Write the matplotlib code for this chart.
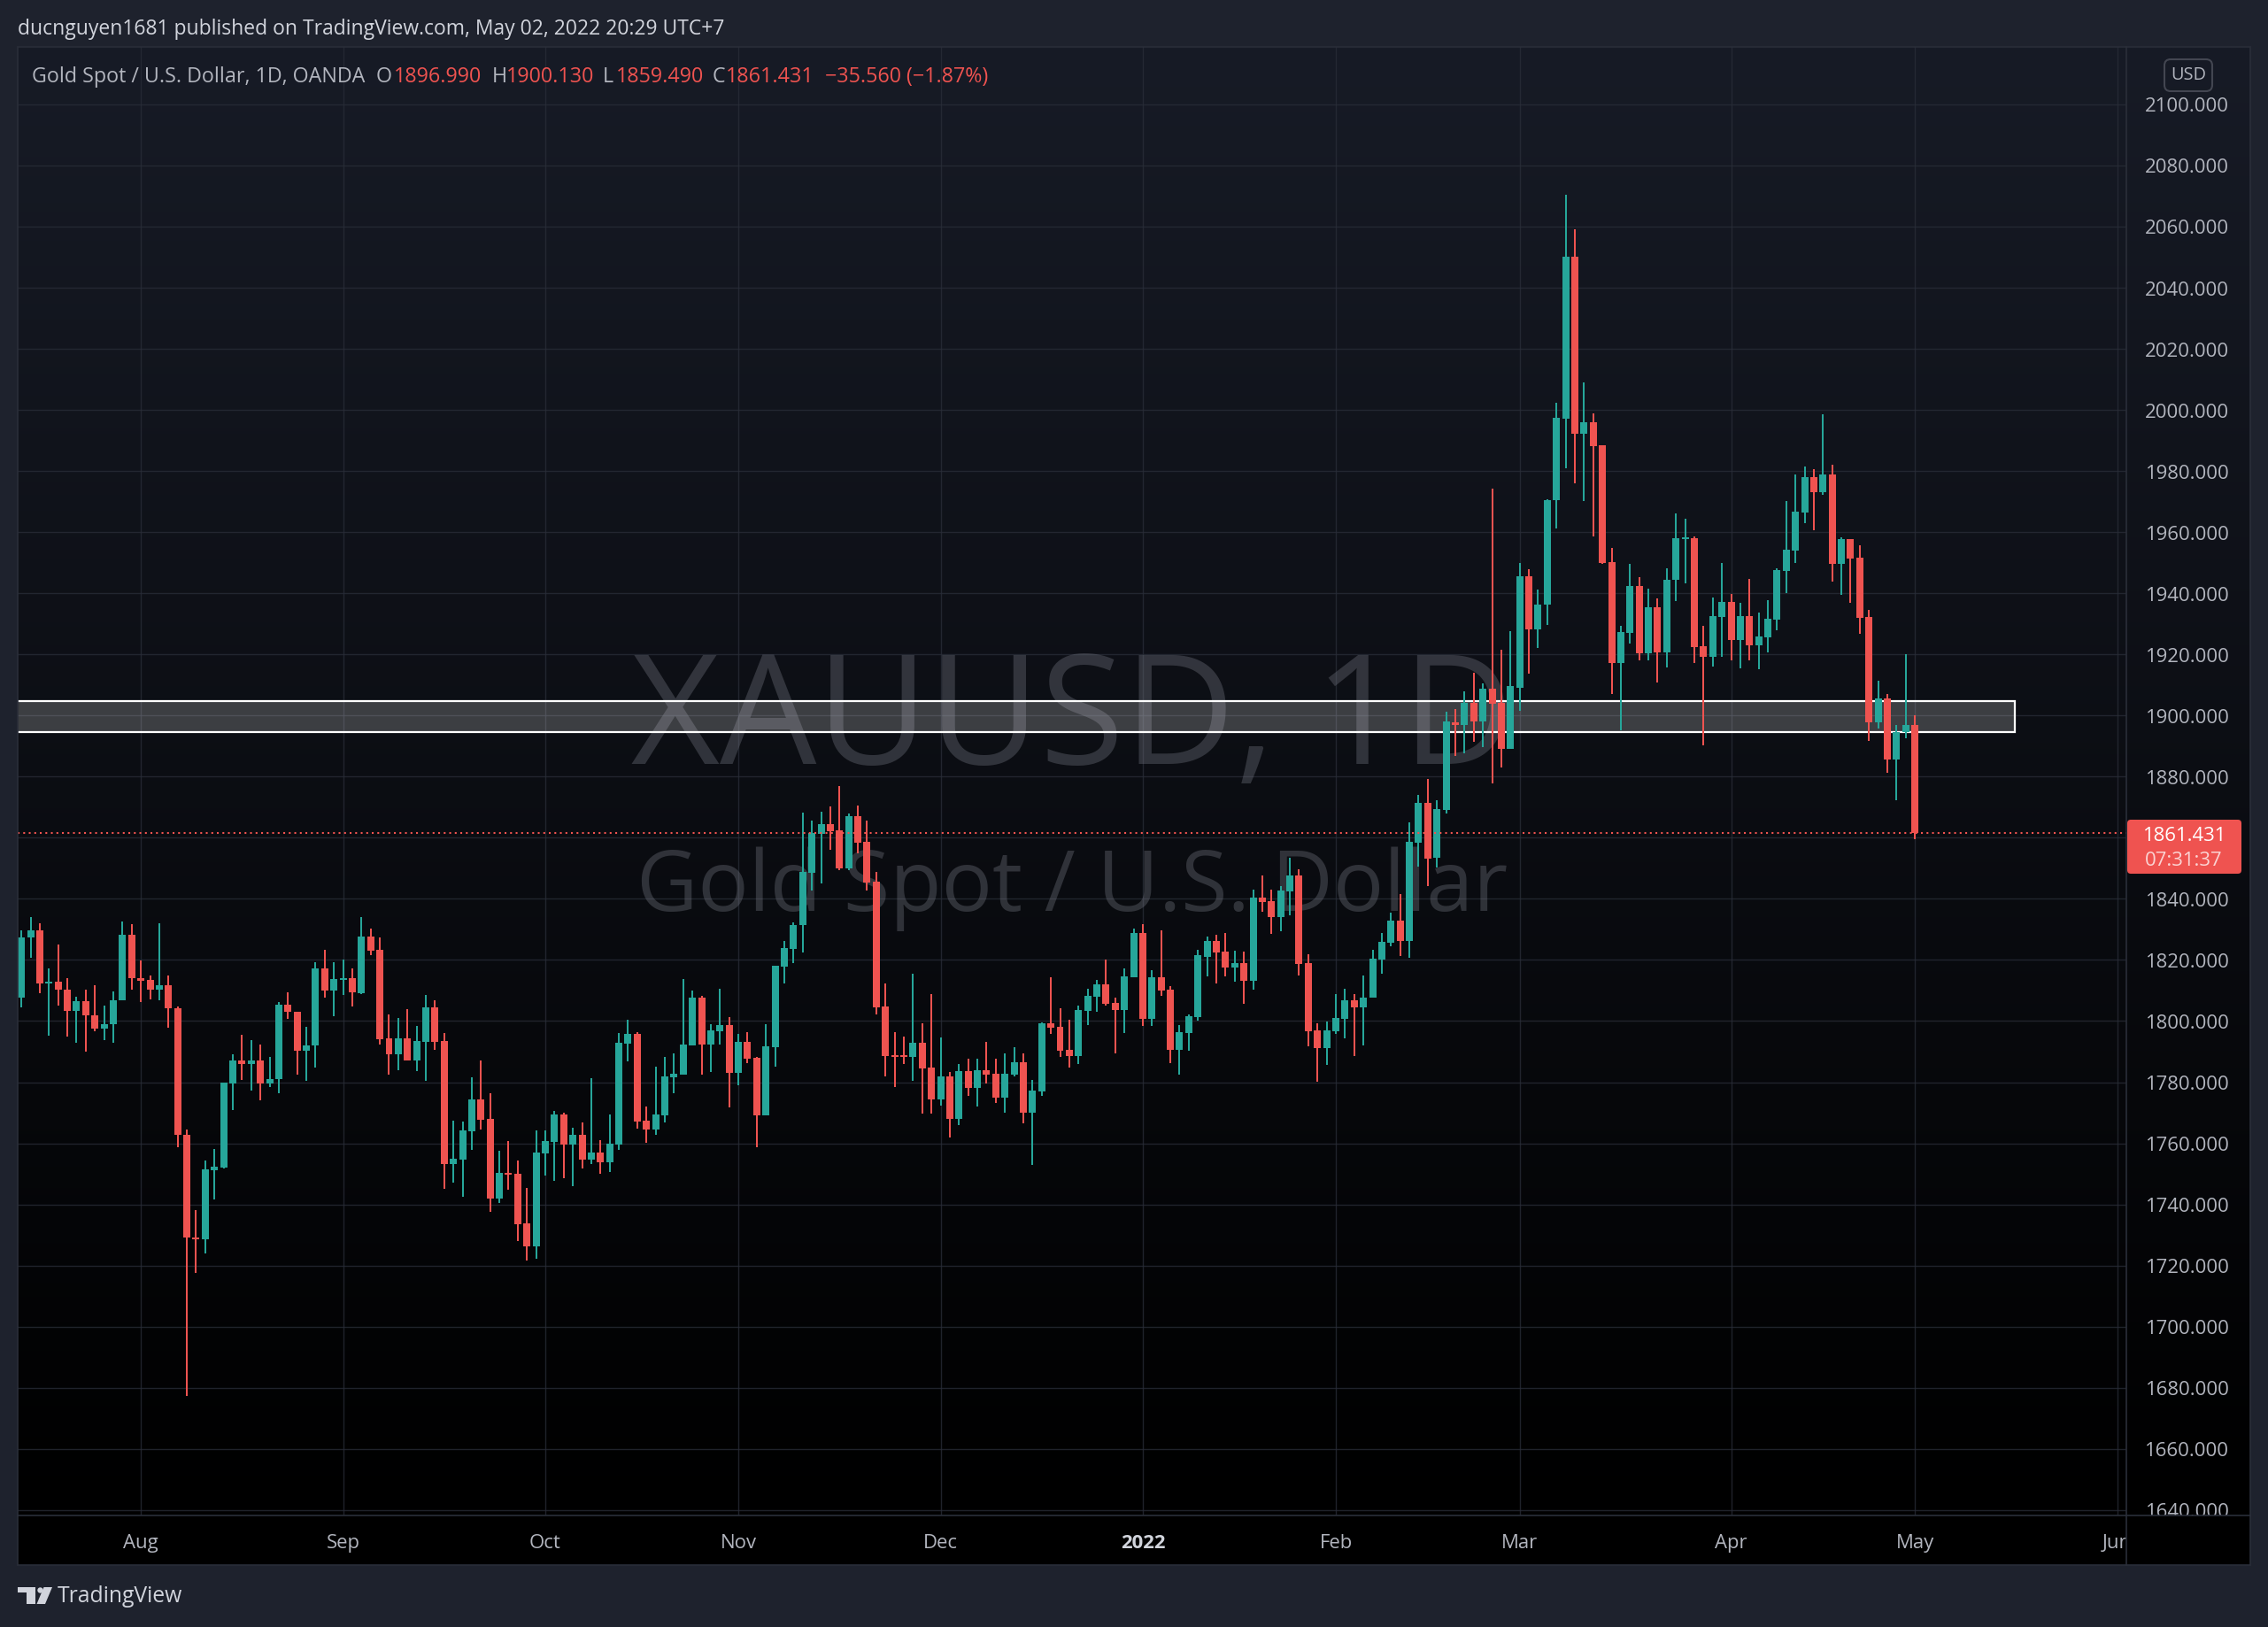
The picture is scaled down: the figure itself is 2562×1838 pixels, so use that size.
import numpy as np
import matplotlib
matplotlib.use('Agg')
import matplotlib.pyplot as plt
import matplotlib.colors as mcolors
from matplotlib.patches import Rectangle, FancyBboxPatch, Polygon, Circle
from matplotlib.lines import Line2D
from matplotlib.transforms import IdentityTransform, offset_copy

plt.rcParams['font.family'] = ['Open Sans', 'DejaVu Sans']

# ---------------- data (XAUUSD daily, OANDA) ----------------
opens = [
    1807.6, 1827.3, 1829.6, 1812.2, 1812.9, 1810.2, 1803.2, 1806.4, 1801.8, 1797.4,
    1798.9, 1806.7, 1828.1, 1814.1, 1813.6, 1810.2, 1811.8, 1804.2, 1762.9, 1729.3,
    1728.6, 1751.2, 1752.1, 1779.7, 1787.1, 1785.8, 1787.1, 1779.7, 1780.9, 1805.4,
    1803.1, 1790.4, 1791.9, 1817.3, 1810.1, 1813.6, 1814.1, 1809.1, 1827.7, 1823.4,
    1794.4, 1789.0, 1794.4, 1787.1, 1793.2, 1804.5, 1793.5, 1753.2, 1754.7, 1764.0,
    1774.4, 1768.0, 1741.9, 1750.3, 1750.0, 1733.8, 1726.3, 1756.7, 1760.5, 1769.5,
    1759.6, 1762.8, 1754.7, 1757.0, 1753.8, 1759.6, 1792.7, 1795.8, 1767.4, 1764.5,
    1769.2, 1781.6, 1782.5, 1792.1, 1807.7, 1792.4, 1796.7, 1798.7, 1783.0, 1793.1,
    1787.9, 1769.1, 1791.4, 1817.7, 1823.7, 1831.3, 1848.6, 1861.3, 1864.5, 1862.5,
    1850.0, 1867.1, 1858.7, 1845.7, 1804.7, 1788.8, 1788.8, 1788.2, 1792.8, 1784.7,
    1774.3, 1781.8, 1768.0, 1783.7, 1778.2, 1784.0, 1782.8, 1775.0, 1782.5, 1786.6,
    1770.0, 1777.0, 1799.3, 1798.2, 1790.6, 1788.6, 1803.4, 1808.0, 1812.1, 1806.0,
    1803.7, 1814.4, 1828.9, 1800.8, 1814.4, 1810.3, 1790.6, 1796.1, 1801.4, 1821.1,
    1826.1, 1822.6, 1817.4, 1819.1, 1813.3, 1840.5, 1839.3, 1834.1, 1842.5, 1847.7,
    1819.1, 1796.9, 1791.1, 1796.6, 1800.6, 1806.7, 1804.4, 1807.6, 1820.0, 1825.5,
    1833.0, 1826.3, 1858.4, 1871.4, 1853.5, 1869.0, 1897.8, 1896.9, 1904.0, 1898.0,
    1908.9, 1904.0, 1889.0, 1909.2, 1945.7, 1928.1, 1936.2, 1970.5, 1997.2, 2050.0,
    1992.1, 1996.0, 1988.5, 1950.3, 1917.3, 1927.1, 1942.3, 1920.4, 1935.5, 1920.7,
    1944.3, 1957.7, 1958.0, 1922.6, 1919.1, 1932.2, 1937.1, 1924.6, 1932.5, 1922.9,
    1925.5, 1931.3, 1947.2, 1953.9, 1966.4, 1978.0, 1973.0, 1978.8, 1949.6, 1957.7,
    1951.6, 1932.2, 1897.7, 1905.5, 1885.5, 1894.5, 1896.99]

highs = [
    1829.8, 1834.1, 1832.1, 1817.3, 1825.1, 1813.9, 1808.0, 1810.3, 1811.6, 1805.1,
    1809.8, 1832.7, 1831.6, 1819.7, 1815.0, 1831.9, 1815.0, 1804.8, 1764.4, 1738.0,
    1754.3, 1758.1, 1780.0, 1789.1, 1795.6, 1793.8, 1792.4, 1788.3, 1806.3, 1809.5,
    1803.1, 1798.2, 1819.3, 1823.4, 1819.3, 1820.2, 1817.3, 1834.1, 1830.3, 1827.4,
    1802.2, 1801.1, 1804.0, 1798.5, 1808.6, 1806.9, 1796.1, 1767.4, 1767.1, 1781.6,
    1787.1, 1776.4, 1757.6, 1760.8, 1754.4, 1745.4, 1764.3, 1764.3, 1770.6, 1770.0,
    1765.1, 1766.9, 1781.4, 1761.1, 1769.5, 1796.1, 1800.5, 1796.4, 1772.1, 1785.1,
    1788.3, 1789.5, 1813.8, 1810.0, 1808.3, 1799.0, 1810.5, 1801.2, 1795.7, 1796.3,
    1788.2, 1798.9, 1818.2, 1826.3, 1832.4, 1868.2, 1865.6, 1868.5, 1870.3, 1876.9,
    1868.0, 1870.6, 1865.6, 1848.9, 1812.2, 1796.3, 1794.8, 1815.4, 1799.2, 1808.7,
    1794.5, 1783.3, 1785.9, 1787.7, 1787.7, 1793.2, 1787.7, 1789.5, 1791.5, 1789.5,
    1780.8, 1799.6, 1814.4, 1804.3, 1800.5, 1805.1, 1810.6, 1813.5, 1820.2, 1807.7,
    1817.3, 1830.3, 1831.8, 1816.7, 1829.8, 1811.5, 1798.7, 1802.2, 1823.4, 1827.8,
    1828.1, 1828.9, 1822.9, 1822.6, 1843.1, 1847.7, 1843.1, 1844.3, 1853.5, 1849.7,
    1822.0, 1799.2, 1799.8, 1808.7, 1810.7, 1808.7, 1814.8, 1823.4, 1828.7, 1835.6,
    1841.7, 1865.1, 1874.0, 1879.2, 1872.4, 1901.1, 1902.2, 1908.0, 1914.1, 1910.4,
    1974.3, 1921.6, 1927.5, 1950.0, 1948.0, 1941.1, 1970.9, 2002.4, 2070.5, 2059.1,
    2009.0, 1999.0, 1988.5, 1954.7, 1929.3, 1949.7, 1945.4, 1941.4, 1938.4, 1948.3,
    1966.1, 1964.3, 1958.6, 1929.3, 1938.6, 1949.9, 1939.7, 1936.8, 1944.6, 1933.6,
    1937.7, 1948.1, 1970.1, 1978.8, 1981.4, 1980.6, 1998.6, 1982.0, 1958.3, 1957.7,
    1955.7, 1934.5, 1911.3, 1907.0, 1896.8, 1920.0, 1900.13]

lows = [
    1804.6, 1820.6, 1809.0, 1795.1, 1805.2, 1794.8, 1792.8, 1789.9, 1796.6, 1793.7,
    1792.8, 1806.7, 1810.3, 1806.1, 1807.1, 1806.7, 1797.9, 1758.8, 1677.4, 1717.6,
    1723.9, 1741.7, 1751.7, 1771.0, 1780.6, 1777.3, 1774.2, 1778.5, 1776.5, 1800.8,
    1782.5, 1780.3, 1784.8, 1807.7, 1801.7, 1808.6, 1804.9, 1808.9, 1821.6, 1792.4,
    1782.5, 1784.0, 1787.1, 1783.7, 1780.5, 1790.6, 1745.1, 1747.1, 1742.4, 1757.9,
    1764.5, 1737.6, 1740.5, 1744.8, 1728.0, 1721.6, 1722.2, 1749.5, 1747.7, 1748.6,
    1746.0, 1751.8, 1753.2, 1750.0, 1750.6, 1757.9, 1786.9, 1764.8, 1760.2, 1762.8,
    1766.9, 1776.4, 1782.5, 1792.1, 1782.5, 1783.4, 1792.4, 1771.7, 1778.9, 1786.2,
    1758.7, 1769.1, 1785.0, 1812.2, 1819.1, 1822.3, 1842.8, 1845.1, 1856.1, 1849.5,
    1849.5, 1855.0, 1842.8, 1802.1, 1781.8, 1778.4, 1785.9, 1780.4, 1769.7, 1769.7,
    1772.3, 1761.9, 1765.9, 1775.6, 1772.1, 1779.6, 1773.2, 1770.0, 1781.9, 1766.6,
    1752.9, 1775.6, 1795.8, 1788.3, 1784.8, 1786.0, 1798.7, 1803.1, 1805.1, 1789.5,
    1796.1, 1814.4, 1798.5, 1798.5, 1808.3, 1786.3, 1782.5, 1790.3, 1800.2, 1814.5,
    1812.2, 1814.5, 1813.0, 1805.5, 1810.2, 1835.9, 1828.4, 1829.5, 1834.7, 1814.8,
    1791.7, 1780.1, 1785.6, 1795.7, 1794.3, 1788.5, 1792.0, 1807.6, 1815.4, 1824.6,
    1821.4, 1820.8, 1850.6, 1844.3, 1850.3, 1868.0, 1886.7, 1887.6, 1891.5, 1889.7,
    1877.9, 1883.0, 1889.0, 1901.5, 1913.6, 1922.0, 1929.6, 1961.2, 1981.0, 1976.1,
    1970.3, 1958.5, 1949.7, 1907.0, 1895.2, 1923.5, 1918.0, 1918.0, 1910.8, 1915.7,
    1937.4, 1943.2, 1917.1, 1890.1, 1915.9, 1919.1, 1918.0, 1915.4, 1918.0, 1915.1,
    1920.6, 1927.8, 1940.0, 1949.9, 1962.9, 1960.6, 1972.2, 1943.8, 1939.4, 1936.8,
    1926.7, 1891.6, 1895.7, 1881.2, 1872.2, 1892.5, 1859.49]

closes = [
    1827.4, 1829.6, 1812.2, 1812.9, 1810.2, 1803.2, 1806.4, 1801.8, 1797.4, 1799.0,
    1806.8, 1828.1, 1814.0, 1813.3, 1810.2, 1811.8, 1804.1, 1762.9, 1729.1, 1728.7,
    1751.4, 1752.2, 1779.9, 1787.1, 1785.8, 1787.1, 1779.6, 1781.1, 1805.4, 1802.9,
    1790.4, 1792.0, 1817.3, 1810.1, 1813.8, 1814.1, 1809.3, 1827.7, 1823.1, 1794.1,
    1789.0, 1794.4, 1787.1, 1793.5, 1804.5, 1793.2, 1753.2, 1755.0, 1764.3, 1774.4,
    1767.7, 1741.9, 1750.3, 1749.8, 1733.5, 1726.3, 1757.0, 1760.8, 1769.5, 1759.6,
    1762.8, 1754.7, 1757.0, 1753.8, 1759.9, 1792.9, 1795.8, 1767.1, 1764.5, 1769.5,
    1781.9, 1782.8, 1792.4, 1807.7, 1792.4, 1797.0, 1798.7, 1783.0, 1793.1, 1787.6,
    1769.1, 1791.7, 1818.0, 1824.0, 1831.5, 1848.9, 1861.6, 1864.5, 1862.2, 1850.0,
    1867.1, 1858.4, 1845.4, 1804.4, 1788.5, 1788.2, 1788.2, 1792.8, 1784.4, 1774.3,
    1781.8, 1768.0, 1783.6, 1778.2, 1784.0, 1782.5, 1775.0, 1782.8, 1786.6, 1770.0,
    1777.3, 1799.3, 1797.9, 1790.3, 1788.6, 1803.7, 1808.3, 1812.1, 1805.7, 1803.7,
    1814.7, 1828.9, 1800.8, 1814.4, 1810.0, 1790.6, 1796.4, 1801.6, 1821.6, 1826.1,
    1822.3, 1817.4, 1819.1, 1813.3, 1840.5, 1839.1, 1834.1, 1842.8, 1847.7, 1818.8,
    1796.6, 1791.1, 1796.9, 1800.9, 1806.7, 1804.4, 1807.8, 1820.3, 1825.8, 1833.0,
    1826.3, 1858.7, 1871.4, 1853.2, 1869.3, 1898.0, 1896.9, 1904.0, 1898.0, 1908.9,
    1903.9, 1889.0, 1909.5, 1945.7, 1928.1, 1936.2, 1970.6, 1997.5, 2050.0, 1992.1,
    1996.0, 1988.2, 1950.0, 1917.3, 1927.2, 1942.3, 1920.4, 1935.5, 1920.7, 1944.5,
    1958.0, 1958.2, 1922.3, 1919.1, 1932.5, 1937.1, 1924.6, 1932.5, 1922.9, 1925.8,
    1931.6, 1947.5, 1954.2, 1966.7, 1978.0, 1973.0, 1978.8, 1949.6, 1957.7, 1951.3,
    1931.9, 1897.7, 1905.5, 1885.5, 1894.5, 1896.991, 1861.431]

month_labels = ['Aug', 'Sep', 'Oct', 'Nov', 'Dec', '2022', 'Feb', 'Mar', 'Apr', 'May', 'Jun']
month_bars = [13, 35, 57, 78, 100, 122, 143, 163, 186, 206, 228]
price_ticks = list(range(1640, 2101, 20))

zone_low, zone_high = 1894.6, 1904.7
zone_end_bar = 216.9

symbol_title = 'Gold Spot / U.S. Dollar, 1D, OANDA'
watermark_1 = 'XAUUSD, 1D'
watermark_2 = 'Gold Spot / U.S. Dollar'
header = 'ducnguyen1681 published on TradingView.com, May 02, 2022 20:29 UTC+7'
countdown = '07:31:37'

# ---------------- styling ----------------
UP = '#26a69a'
DN = '#ef5350'
TXT = '#b2b5be'
FRAME = '#1e222d'
GRID = '#2a2e39'

W, H = 2562, 1838
PL, PR, PT, PB = 20, 2402, 53, 1712
AR, TB = 2542, 1768
XLIM = (-0.4, 229.0)
YLIM = (1638.2, 2118.8)

fig = plt.figure(figsize=(W / 100, H / 100), dpi=100)
fig.patch.set_facecolor(FRAME)
renderer = fig.canvas.get_renderer()
ID = IdentityTransform()


def fit(t, target_w):
    bb = t.get_window_extent(renderer)
    t.set_fontsize(t.get_fontsize() * target_w / bb.width)
    return t.get_fontsize()


def fxy(x, y):
    return x / W, 1 - y / H


def gradient_img(axx):
    top = np.array(mcolors.to_rgb('#171b26'))
    bot = np.array([0.0, 0.0, 0.0])
    t = np.linspace(0, 1, 512)[:, None]
    g = top * (1 - t) + bot * t
    xl, yl = axx.get_xlim(), axx.get_ylim()
    axx.imshow(g[:, None, :], extent=[xl[0], xl[1], yl[0], yl[1]], aspect='auto',
               origin='upper', zorder=0, interpolation='bilinear')
    axx.set_xlim(xl)
    axx.set_ylim(yl)


# main plot area
ax = fig.add_axes([PL / W, 1 - PB / H, (PR - PL) / W, (PB - PT) / H])
ax.set_xlim(XLIM)
ax.set_ylim(YLIM)
ax.axis('off')
gradient_img(ax)

for p in price_ticks:
    ax.axhline(p, color=GRID, lw=1.0, alpha=0.75, zorder=1)
for b in month_bars:
    ax.axvline(b, color=GRID, lw=1.0, alpha=0.75, zorder=1)

# watermark
wm1 = ax.text(0.5, 0.5118, watermark_1, transform=ax.transAxes, ha='center', va='baseline',
              color='#787b86', alpha=0.35, fontsize=100, zorder=1.5)
fit(wm1, 997)
wm2 = ax.text(0.5, 0.4117, watermark_2, transform=ax.transAxes, ha='center', va='baseline',
              color='#787b86', alpha=0.35, fontsize=60, zorder=1.5)
fit(wm2, 984)

# support/resistance zone
ax.add_patch(Rectangle((XLIM[0] - 5, zone_low), zone_end_bar - XLIM[0] + 5, zone_high - zone_low,
                       facecolor=(1, 1, 1, 0.2), edgecolor='white', lw=1.6, zorder=2))

# candles
o = np.array(opens); h = np.array(highs); l = np.array(lows); c = np.array(closes)
idx = np.arange(len(o))
cols = np.where(c >= o, UP, DN)
ax.vlines(idx, l, h, colors=cols, lw=1.45, zorder=3)
ax.bar(idx, np.maximum(np.abs(c - o), 0.3), width=0.77, bottom=np.minimum(o, c),
       color=cols, linewidth=0, zorder=4)

# last price line
ax.axhline(c[-1], color=DN, lw=1.5, ls=(0, (1, 2)), zorder=5)

# price axis
pax = fig.add_axes([PR / W, 1 - PB / H, (AR - PR) / W, (PB - PT) / H])
pax.set_xlim(0, 1)
pax.set_ylim(YLIM)
pax.axis('off')
gradient_img(pax)
ptr = offset_copy(pax.transData, fig=fig, x=0, y=-3, units='dots')

# the last-price badge covers the axis labels that fall under it (as in TradingView)
px_per_usd = (PB - PT) / (YLIM[1] - YLIM[0])
badge_top = c[-1] + 16 / px_per_usd
badge_bot = c[-1] - 46 / px_per_usd
visible_ticks = [p for p in price_ticks if not (badge_bot - 5 < p < badge_top + 5)]

tk = pax.text(0.486, visible_ticks[-1], f'{visible_ticks[-1]:.3f}', ha='center', va='center',
              color=TXT, fontsize=16, clip_on=True, zorder=3, transform=ptr)
axfs = fit(tk, 95)
for p in visible_ticks[:-1]:
    pax.text(0.486, p, f'{p:.3f}', ha='center', va='center', color=TXT, fontsize=axfs,
             clip_on=True, zorder=3, transform=ptr)

# time axis strip
fig.add_artist(Rectangle((PL, H - TB), AR - PL, TB - PB, transform=ID, facecolor='black',
                         edgecolor='none', zorder=-1))
tax = fig.add_axes([PL / W, 1 - TB / H, (PR - PL) / W, (TB - PB) / H])
tax.set_xlim(XLIM)
tax.set_ylim(0, 1)
tax.axis('off')
for b, lab in zip(month_bars, month_labels):
    bold = lab.isdigit()
    tax.text(b, 0.44, lab, ha='center', va='center', color='#d1d4dc' if bold else TXT,
             fontsize=axfs, fontweight='bold' if bold else 'normal', clip_on=True)

# panel borders
fig.add_artist(Rectangle((PL, H - TB), AR - PL, TB - PT, transform=ID, facecolor='none',
                         edgecolor=GRID, lw=1.2, zorder=10))
fig.add_artist(Line2D([PR, PR], [H - TB, H - PT], transform=ID, color=GRID, lw=1.2, zorder=10))
fig.add_artist(Line2D([PL, AR], [H - PB, H - PB], transform=ID, color=GRID, lw=1.2, zorder=10))

# last price label on axis
fig.add_artist(FancyBboxPatch((PR + 1, H - 987), 129, 61, boxstyle='round,pad=0,rounding_size=4',
                              transform=ID, facecolor=DN, edgecolor='none', zorder=11))
fig.text(*fxy(2467, 944), f'{c[-1]:.3f}', ha='center', va='center', color='white',
         fontsize=axfs, zorder=12)
fig.text(*fxy(2467, 973), countdown, ha='center', va='center', color='white', alpha=0.75,
         fontsize=axfs, zorder=12)

# USD badge
fig.add_artist(FancyBboxPatch((2445, H - 103), 54, 36, boxstyle='round,pad=0,rounding_size=7',
                              transform=ID, facecolor='none', edgecolor='#434651', lw=1.5, zorder=11))
usd = fig.text(*fxy(2472, 85), 'USD', ha='center', va='center', color=TXT, fontsize=13, zorder=12)
fit(usd, 40)

# header line
ht = fig.text(*fxy(20, 33), header, ha='left', va='center', color='#d1d4dc', fontsize=15)
fit(ht, 795)

# legend (symbol + OHLC)
lt = fig.text(*fxy(36, 87), symbol_title, ha='left', va='center', color=TXT, fontsize=14)
lfs = fit(lt, 377)
chg = c[-1] - c[-2]
pct = chg / c[-2] * 100
pieces = [
    (425, 'O', TXT), (445, f'{o[-1]:.3f}', DN),
    (556, 'H', TXT), (572, f'{h[-1]:.3f}', DN),
    (681, 'L', TXT), (696, f'{l[-1]:.3f}', DN),
    (805, 'C', TXT), (820, f'{c[-1]:.3f}', DN),
    (932, f'\u2212{abs(chg):.3f} (\u2212{abs(pct):.2f}%)', DN),
]
for x, s, col in pieces:
    fig.text(*fxy(x, 87), s, ha='left', va='center', color=col, fontsize=lfs)

# TradingView logo
LOGO = '#d1d4dc'
def poly(pts):
    return Polygon([(x, H - y) for x, y in pts], closed=True, transform=ID,
                   facecolor=LOGO, edgecolor='none')
fig.add_artist(poly([(19.5, 1793), (40, 1793), (40, 1812), (30, 1812), (30, 1798.5), (19.5, 1798.5)]))
fig.add_artist(Circle((45.5, H - 1796.5), 3.2, transform=ID, facecolor=LOGO, edgecolor='none'))
fig.add_artist(poly([(49.5, 1793), (59, 1793), (51, 1812), (41.5, 1812)]))
lg = fig.text(*fxy(65, 1804), 'TradingView', ha='left', va='center', color=LOGO, fontsize=16)
fit(lg, 142)

fig.savefig('out.png', dpi=100, facecolor=fig.get_facecolor())
